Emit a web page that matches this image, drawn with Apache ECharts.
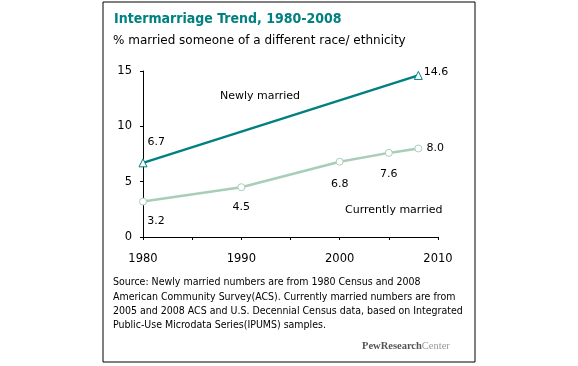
<!DOCTYPE html>
<html><head><meta charset="utf-8">
<script src="https://cdn.jsdelivr.net/npm/echarts@6/dist/echarts.min.js"></script>
<style>html,body{margin:0;padding:0;background:#fff}#c{width:578px;height:366px}</style>
</head><body><div id="c"></div>
<script>
const newlyYears = [1980, 2008];
const newlyValues = [6.7, 14.6];
const currentYears = [1980, 1990, 2000, 2005, 2008];
const currentValues = [3.2, 4.5, 6.8, 7.6, 8.0];
const yTicks = [0, 5, 10, 15];
const xTickLabels = [1980, 1990, 2000, 2010];
const titleText = 'Intermarriage Trend, 1980-2008';
const subtitleText = '% married someone of a different race/ ethnicity';
const sourceLines = [
  'Source: Newly married numbers are from 1980 Census and 2008',
  'American Community Survey(ACS). Currently married numbers are from',
  '2005 and 2008 ACS and U.S. Decennial Census data, based on Integrated',
  'Public-Use Microdata Series(IPUMS) samples.'
];

const font = 'DejaVu Sans';
const teal = '#008080';
const light = '#a8cdb8';

const chart = echarts.init(document.getElementById('c'));
const graphics = [
  {type:'rect', shape:{x:103, y:2, width:372, height:360}, style:{fill:'none', stroke:'#000', lineWidth:1}, z:0},
  {type:'text', left:114, top:12, style:{text:titleText, fill:teal, font:'bold 14px "DejaVu Sans Condensed"'}},
  {type:'text', left:113, top:35, style:{text:subtitleText, fill:'#000', font:'12px "DejaVu Sans"'}}
];
sourceLines.forEach((t,i)=>graphics.push({type:'text', left:113, top:277 + i*14.4, style:{text:t, fill:'#000', font:'10.5px "DejaVu Sans Condensed"'}}));
graphics.push({type:'text', left:362, top:341, style:{rich:{a:{font:'bold 10.5px "Liberation Serif"', fill:'#555'}, b:{font:'10.5px "Liberation Serif"', fill:'#999'}}, text:'{a|PewResearch}{b|Center}'}});

chart.setOption({
  animation:false,
  graphic: graphics,
  grid:{left:143, right:140, top:71, bottom:129},
  xAxis:{type:'value', min:1980, max:2010, interval:5,
    axisLine:{lineStyle:{color:'#000'}},
    axisTick:{show:true, length:3, lineStyle:{color:'#000'}},
    splitLine:{show:false},
    axisLabel:{color:'#000', fontFamily:font, fontSize:11.5, margin:16,
      formatter:v=> xTickLabels.includes(v) ? String(v) : ''}},
  yAxis:{type:'value', min:0, max:15, interval:5,
    axisLine:{show:true, lineStyle:{color:'#000'}},
    axisTick:{show:true, length:3, lineStyle:{color:'#000'}},
    splitLine:{show:false},
    axisLabel:{color:'#000', fontFamily:font, fontSize:11.5, margin:11,
      formatter:v=> yTicks.includes(v) ? String(v) : ''}},
  series:[
    {type:'line', name:'Newly married', data:newlyYears.map((y,i)=>[y,newlyValues[i]]),
      lineStyle:{color:teal, width:2.5}, itemStyle:{color:'#fff', borderColor:teal, borderWidth:1},
      symbol:'triangle', symbolSize:8, showAllSymbol:true,
      label:{show:true, fontFamily:font, fontSize:11, color:'#000',
        formatter:p=>p.value[1].toFixed(1),
        position:'right'},
      labelLayout:(p)=>p.dataIndex===0?{dx:-5,dy:-21}:{dx:-4,dy:-3}
    },
    {type:'line', name:'Currently married', data:currentYears.map((y,i)=>[y,currentValues[i]]),
      lineStyle:{color:light, width:2.5}, itemStyle:{color:'#fff', borderColor:light, borderWidth:1},
      symbol:'circle', symbolSize:7, showAllSymbol:true,
      label:{show:true, fontFamily:font, fontSize:11, color:'#000',
        formatter:p=>p.value[1].toFixed(1), position:'bottom', distance:10},
      labelLayout:(p)=>{
        const i=p.dataIndex;
        if(i===0) return {dx:13, dy:0};
        if(i===2) return {dy:3};
        if(i===3) return {dy:2};
        if(i===4) return {dx:17, dy:-20};
        return {};
      }
    }
  ]
});
// series name labels placed via the axis scale
const nPos = chart.convertToPixel({gridIndex:0},[1991.9, 12.75]);
const cPos = chart.convertToPixel({gridIndex:0},[2005.5, 2.45]);
chart.setOption({graphic: graphics.concat([
  {type:'text', x:nPos[0], y:nPos[1], style:{text:'Newly married', fill:'#000', font:'11px "DejaVu Sans"', align:'center', verticalAlign:'middle'}},
  {type:'text', x:cPos[0], y:cPos[1], style:{text:'Currently married', fill:'#000', font:'11px "DejaVu Sans"', align:'center', verticalAlign:'middle'}}
])});
</script></body></html>
